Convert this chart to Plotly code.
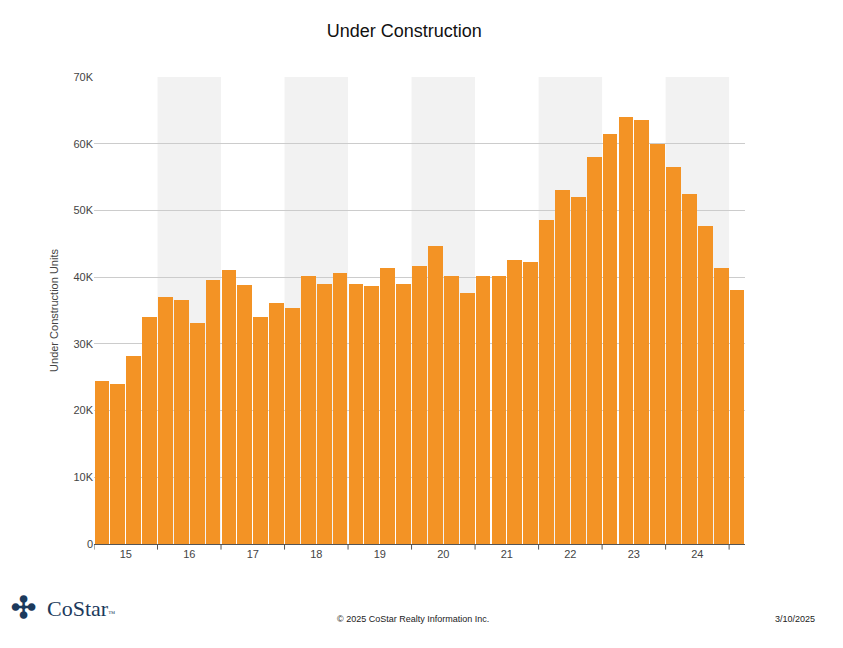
import plotly.graph_objects as go

# quarterly under-construction units, 2015 Q1 .. 2025 Q1
units = [24.5, 24.0, 28.2, 34.0,
         37.0, 36.6, 33.2, 39.5,
         41.0, 38.8, 34.0, 36.1,
         35.4, 40.2, 39.0, 40.6,
         38.9, 38.6, 41.4, 39.0,
         41.7, 44.6, 40.2, 37.6,
         40.1, 40.1, 42.5, 42.2,
         48.6, 53.0, 52.0, 58.0,
         61.5, 64.0, 63.5, 60.0,
         56.5, 52.4, 47.6, 41.4,
         38.0]
units = [u * 1000 for u in units]
years = ["15", "16", "17", "18", "19", "20", "21", "22", "23", "24"]
shaded = ["16", "18", "20", "22", "24"]

x = list(range(len(units)))

fig = go.Figure(go.Bar(
    x=x, y=units, marker_color="#F39325", marker_line_width=0,
    width=0.93, hoverinfo="y"))

for i, yr in enumerate(years):
    if yr in shaded:
        fig.add_vrect(x0=i * 4 - 0.5, x1=i * 4 + 3.5, fillcolor="#F2F2F2",
                      line_width=0, layer="below")
for k in range(11):
    fig.add_shape(type="line", xref="x", yref="paper", x0=k * 4 - 0.5, x1=k * 4 - 0.5,
                  y0=0, y1=-0.012, line=dict(color="#555", width=1))

fig.update_layout(
    width=843, height=648, plot_bgcolor="white", paper_bgcolor="white",
    margin=dict(l=86, r=106, t=69, b=112),
    font=dict(family="Liberation Sans, Arial", color="#444", size=11),
    title=dict(text="Under Construction", x=0.47, y=0.975, xanchor="center",
               font=dict(size=18, color="#111")),
    showlegend=False, bargap=0,
    xaxis=dict(range=[-0.5, 40.5], tickmode="array",
               tickvals=[i * 4 + 1.5 for i in range(len(years))], ticktext=years,
               showgrid=False, showline=True, linecolor="#555", ticks="", zeroline=False),
    yaxis=dict(range=[0, 70000], tickvals=[0, 10000, 20000, 30000, 40000, 50000, 60000, 70000],
               ticktext=["0", "10K", "20K", "30K", "40K", "50K", "60K", "70K"],
               gridcolor="#CCCCCC", zeroline=False,
               title=dict(text="Under Construction Units", font=dict(size=11), standoff=12)),
)

fig.add_annotation(xref="paper", yref="paper", x=-0.13, y=-0.175, xanchor="left",
                   text="<b>✣</b>", showarrow=False, font=dict(size=30, color="#1C3A5C"))
fig.add_annotation(xref="paper", yref="paper", x=-0.075, y=-0.17, xanchor="left",
                   text="CoStar<span style='font-size:7px'>™</span>", showarrow=False,
                   font=dict(size=22, color="#1C3A5C", family="Liberation Serif, Times New Roman"))
fig.add_annotation(xref="paper", yref="paper", x=0.49, y=-0.175, xanchor="center",
                   text="© 2025 CoStar Realty Information Inc.", showarrow=False,
                   font=dict(size=9, color="#222"))
fig.add_annotation(xref="paper", yref="paper", x=1.11, y=-0.175, xanchor="right",
                   text="3/10/2025", showarrow=False, font=dict(size=9, color="#222"))

fig.write_html("out.html")
